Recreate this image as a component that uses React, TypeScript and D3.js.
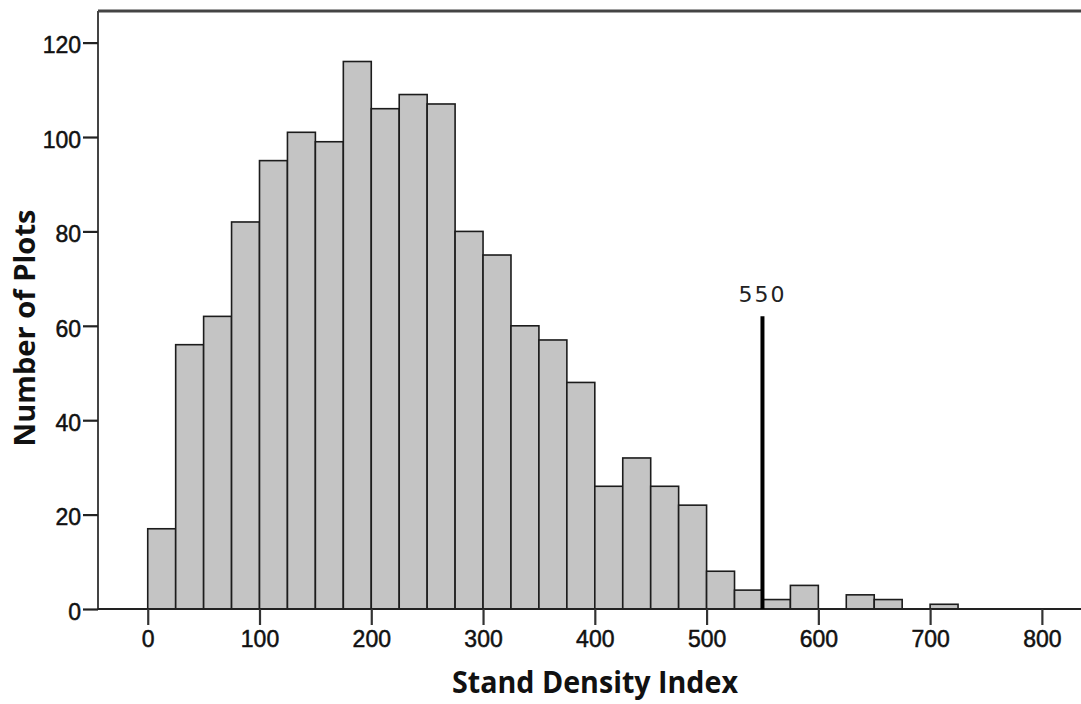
import { useEffect, useRef } from "react";
import * as d3 from "d3";

// histogram bins (lower edge, width 25) and counts
const binStarts = [0, 25, 50, 75, 100, 125, 150, 175, 200, 225, 250, 275, 300, 325, 350, 375, 400, 425, 450, 475, 500, 525, 550, 575, 600, 625, 650, 675, 700];
const counts = [17, 56, 62, 82, 95, 101, 99, 116, 106, 109, 107, 80, 75, 60, 57, 48, 26, 32, 26, 22, 8, 4, 2, 5, 0, 3, 2, 0, 1];
const binWidth = 25;
const xTicks = [0, 100, 200, 300, 400, 500, 600, 700, 800];
const yTicks = [0, 20, 40, 60, 80, 100, 120];
const cutoff = 550;
const cutoffHeight = 62;

const WIDTH = 1081;
const HEIGHT = 704;

const App = () => {
    const chartRef = useRef<SVGSVGElement>(null);

    useEffect(() => {
        const svg = d3.select(chartRef.current);
        svg.selectAll("*").remove();

        const left = 98;
        const right = WIDTH;
        const top = 11;
        const bottom = 609;

        const x = d3.scaleLinear().domain([-44.5, 835]).range([left, right]);
        const y = d3.scaleLinear().domain([0, 126.7]).range([bottom, top]);

        const data = binStarts.map((s, i) => ({ start: s, count: counts[i] }));

        // bars
        svg
            .append("g")
            .selectAll("rect")
            .data(data.filter((d) => d.count > 0))
            .enter()
            .append("rect")
            .attr("x", (d) => x(d.start))
            .attr("y", (d) => y(d.count))
            .attr("width", (d) => x(d.start + binWidth) - x(d.start))
            .attr("height", (d) => y(0) - y(d.count))
            .attr("fill", "#c4c4c4")
            .attr("stroke", "#1c1c1c")
            .attr("stroke-width", 1.6);

        // frame: top line
        svg
            .append("line")
            .attr("x1", left)
            .attr("x2", right)
            .attr("y1", top)
            .attr("y2", top)
            .attr("stroke", "#444")
            .attr("stroke-width", 3);

        const tickFont = (sel: any) =>
            sel
                .attr("font-family", "'Liberation Sans', Arial, sans-serif")
                .attr("font-size", 23)
                .attr("fill", "#111")
                .attr("stroke", "#111")
                .attr("stroke-width", 0.5);

        // y axis
        const yAxis = svg
            .append("g")
            .attr("transform", `translate(${left},0)`)
            .call(d3.axisLeft(y).tickValues(yTicks).tickSize(15).tickPadding(2).tickSizeOuter(0));
        yAxis.select(".domain").attr("stroke", "#444").attr("stroke-width", 2).attr("d", `M0,${top}V${bottom}`);
        yAxis.selectAll(".tick line").attr("stroke", "#222").attr("stroke-width", 2.2);
        tickFont(yAxis.selectAll(".tick text")).attr("dy", "0.45em");

        // x axis
        const xAxis = svg
            .append("g")
            .attr("transform", `translate(0,${bottom})`)
            .call(d3.axisBottom(x).tickValues(xTicks).tickSize(16).tickPadding(6).tickSizeOuter(0));
        xAxis.select(".domain").attr("stroke", "#222").attr("stroke-width", 2).attr("d", `M${left},0H${right}`);
        xAxis.selectAll(".tick line").attr("stroke", "#333").attr("stroke-width", 2.2);
        tickFont(xAxis.selectAll(".tick text"));

        // cutoff line at 550
        svg
            .append("line")
            .attr("x1", x(cutoff))
            .attr("x2", x(cutoff))
            .attr("y1", y(0))
            .attr("y2", y(cutoffHeight))
            .attr("stroke", "#000")
            .attr("stroke-width", 4);

        svg
            .append("text")
            .attr("x", x(cutoff))
            .attr("y", 302)
            .attr("text-anchor", "middle")
            .attr("font-family", "'DejaVu Sans', sans-serif")
            .attr("font-size", 22)
            .attr("letter-spacing", 2)
            .attr("fill", "#222")
            .text(String(cutoff));

        // axis titles
        svg
            .append("text")
            .attr("x", 595)
            .attr("y", 693)
            .attr("text-anchor", "middle")
            .attr("font-family", "'Open Sans', sans-serif")
            .attr("font-weight", 700)
            .attr("font-size", 30)
            .attr("textLength", 286)
            .attr("lengthAdjust", "spacingAndGlyphs")
            .attr("fill", "#111")
            .text("Stand Density Index");

        svg
            .append("text")
            .attr("transform", `translate(35,328) rotate(-90)`)
            .attr("text-anchor", "middle")
            .attr("font-family", "'Open Sans', sans-serif")
            .attr("font-weight", 700)
            .attr("font-size", 29)
            .attr("textLength", 237)
            .attr("lengthAdjust", "spacingAndGlyphs")
            .attr("fill", "#111")
            .text("Number of Plots");
    }, []);

    return (
        <svg
            ref={chartRef}
            width={WIDTH}
            height={HEIGHT}
            style={{ position: "absolute", left: 0, top: 0, background: "#fff" }}
        ></svg>
    );
};

export default App;
